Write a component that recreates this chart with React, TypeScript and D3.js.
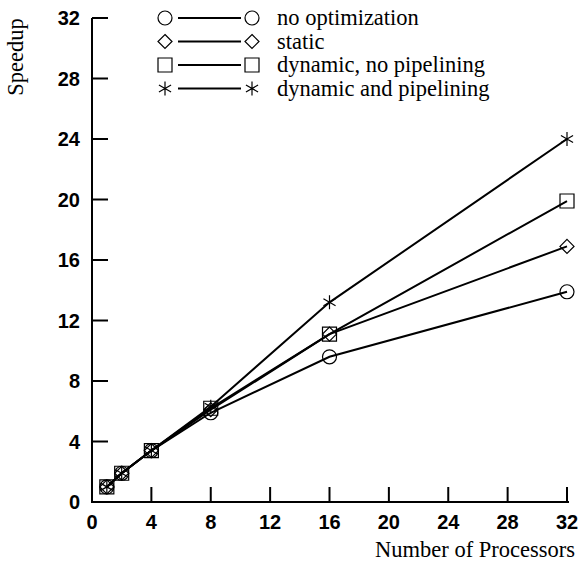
import React from "react";
import * as d3 from "d3";

const processors = [1, 2, 4, 8, 16, 32];
const noOptimization = [1.0, 1.9, 3.4, 5.9, 9.6, 13.9];
const staticSched = [1.0, 1.9, 3.4, 6.1, 11.1, 16.9];
const dynamicNoPipe = [1.0, 1.9, 3.4, 6.2, 11.1, 19.9];
const dynamicPipe = [1.0, 1.9, 3.4, 6.3, 13.2, 24.0];
const seriesNames = [
  "no optimization",
  "static",
  "dynamic, no pipelining",
  "dynamic and pipelining",
];
const seriesMarkers = ["circle", "diamond", "square", "asterisk"];
const xTicks = [0, 4, 8, 12, 16, 20, 24, 28, 32];
const yTicks = [0, 4, 8, 12, 16, 20, 24, 28, 32];

const W = 582;
const H = 561;

function markerPath(kind: string): string {
  const r = 7;
  if (kind === "circle") {
    return d3.symbol().type(d3.symbolCircle).size(Math.PI * r * r)() as string;
  }
  if (kind === "square") {
    return `M${-r},${-r}H${r}V${r}H${-r}Z`;
  }
  if (kind === "diamond") {
    return `M0,${-r}L${r},0L0,${r}L${-r},0Z`;
  }
  const c = Math.cos(Math.PI / 6) * r;
  const s = Math.sin(Math.PI / 6) * r;
  return `M0,${-r}V${r}M${-c},${-s}L${c},${s}M${-c},${s}L${c},${-s}`;
}

const serif = '"Liberation Serif", "Times New Roman", serif';
const sans = '"Liberation Sans", Arial, sans-serif';

export default function App() {
  const x = d3.scaleLinear().domain([0, 32]).range([92, 567]);
  const y = d3.scaleLinear().domain([0, 32]).range([502, 18]);
  const allSeries = [noOptimization, staticSched, dynamicNoPipe, dynamicPipe];
  const line = d3
    .line<number>()
    .x((_, i) => x(processors[i]))
    .y((d) => y(d));

  const legendRows = [18, 41.5, 65, 88.5];
  const serifStyle = { fontFamily: serif };
  const sansStyle = { fontFamily: sans, fontWeight: 700 };

  return (
    <svg
      width={W}
      height={H}
      style={{ position: "absolute", left: 0, top: 0, background: "#fff" }}
    >
      <rect x={0} y={0} width={W} height={H} fill="#fff" />
      {/* axes */}
      <line x1={x(0)} x2={x(0)} y1={y(0) + 1} y2={y(32)} stroke="#000" strokeWidth={2} />
      <line x1={x(0) - 1} x2={x(32) + 2} y1={y(0)} y2={y(0)} stroke="#000" strokeWidth={2} />
      {yTicks.map((t) => (
        <g key={"y" + t}>
          {t > 0 && (
            <line x1={x(0)} x2={x(0) + 16} y1={y(t)} y2={y(t)} stroke="#000" strokeWidth={2} />
          )}
          <text
            x={80}
            y={y(t)}
            dy="0.36em"
            textAnchor="end"
            style={sansStyle}
            fontSize={20}
          >
            {t}
          </text>
        </g>
      ))}
      {xTicks.map((t) => (
        <g key={"x" + t}>
          {t > 0 && (
            <line x1={x(t)} x2={x(t)} y1={y(0)} y2={y(0) - 15} stroke="#000" strokeWidth={2} />
          )}
          <text
            x={x(t)}
            y={529}
            textAnchor="middle"
            style={sansStyle}
            fontSize={20}
          >
            {t}
          </text>
        </g>
      ))}
      <text x={575} y={557} textAnchor="end" style={serifStyle} fontSize={22.5}>
        Number of Processors
      </text>
      <text
        transform={`translate(23,57) rotate(-90)`}
        textAnchor="middle"
        style={serifStyle}
        fontSize={22.5}
      >
        Speedup
      </text>
      {/* data */}
      {allSeries.map((s, i) => (
        <path key={"l" + i} d={line(s) as string} fill="none" stroke="#000" strokeWidth={2} />
      ))}
      {allSeries.map((s, i) =>
        s.map((v, j) => (
          <path
            key={"m" + i + "-" + j}
            d={markerPath(seriesMarkers[i])}
            transform={`translate(${x(processors[j])},${y(v)})`}
            fill="none"
            stroke="#000"
            strokeWidth={1.2}
          />
        ))
      )}
      {/* legend */}
      {seriesNames.map((name, i) => (
        <g key={"lg" + i}>
          <path
            d={markerPath(seriesMarkers[i])}
            transform={`translate(165,${legendRows[i]})`}
            fill="none"
            stroke="#000"
            strokeWidth={1.2}
          />
          <line x1={178} x2={241} y1={legendRows[i]} y2={legendRows[i]} stroke="#000" strokeWidth={2} />
          <path
            d={markerPath(seriesMarkers[i])}
            transform={`translate(252,${legendRows[i]})`}
            fill="none"
            stroke="#000"
            strokeWidth={1.2}
          />
          <text x={277} y={legendRows[i]} dy="0.33em" style={serifStyle} fontSize={22.5}>
            {name}
          </text>
        </g>
      ))}
    </svg>
  );
}
